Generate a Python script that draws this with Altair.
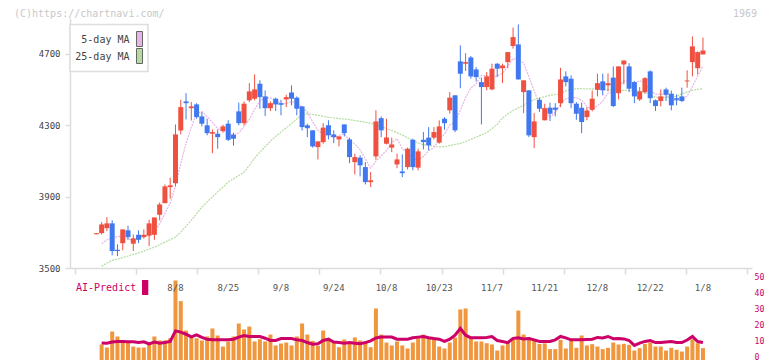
import altair as alt
import numpy as np
import pandas as pd

# ---------------- data ----------------
OPEN = [3689, 3695, 3723, 3750, 3602, 3639, 3711, 3636, 3686, 3673,
        3681, 3686, 3798, 3863, 3953, 3975, 4270, 4433, 4395, 4416,
        4349, 4299, 4252, 4252, 4267, 4308, 4246, 4377, 4311, 4439,
        4448, 4532, 4461, 4395, 4448, 4423, 4444, 4483, 4454, 4405,
        4299, 4271, 4177, 4205, 4299, 4248, 4220, 4304, 4220, 4093,
        4118, 4065, 3981, 4125, 4339, 4196, 4174, 4080, 4041, 4065,
        4218, 4062, 4218, 4230, 4230, 4202, 4336, 4383, 4467, 4657,
        4644, 4679, 4612, 4541, 4513, 4500, 4644, 4619, 4653, 4743,
        4752, 4485, 4495, 4233, 4442, 4327, 4398, 4398, 4423, 4573,
        4560, 4420, 4398, 4345, 4386, 4498, 4545, 4523, 4566, 4479,
        4640, 4629, 4541, 4444, 4485, 4601, 4439, 4435, 4500, 4476,
        4451, 4461, 4545, 4653, 4619, 4696]
HIGH = [3695, 3757, 3785, 3767, 3632, 3716, 3737, 3688, 3711, 3716,
        3770, 3783, 3867, 3968, 4006, 4304, 4442, 4479, 4429, 4423,
        4373, 4336, 4276, 4276, 4302, 4327, 4258, 4426, 4433, 4535,
        4584, 4551, 4494, 4433, 4454, 4442, 4470, 4523, 4461, 4405,
        4308, 4271, 4209, 4311, 4327, 4271, 4237, 4304, 4230, 4140,
        4131, 4093, 4037, 4383, 4349, 4336, 4230, 4140, 4136, 4174,
        4224, 4168, 4261, 4289, 4289, 4327, 4345, 4485, 4467, 4747,
        4703, 4687, 4625, 4566, 4597, 4644, 4647, 4644, 4709, 4846,
        4864, 4551, 4495, 4367, 4454, 4420, 4426, 4423, 4621, 4601,
        4579, 4429, 4426, 4401, 4494, 4588, 4588, 4590, 4629, 4629,
        4662, 4647, 4547, 4513, 4569, 4607, 4444, 4500, 4510, 4494,
        4472, 4510, 4607, 4797, 4713, 4790]
LOW = [3689, 3688, 3707, 3571, 3567, 3599, 3658, 3595, 3639, 3664,
       3623, 3658, 3767, 3863, 3888, 3957, 4248, 4332, 4326, 4336,
       4293, 4243, 4143, 4168, 4258, 4211, 4185, 4299, 4299, 4429,
       4439, 4392, 4351, 4379, 4379, 4355, 4401, 4411, 4355, 4270,
       4233, 4174, 4108, 4196, 4220, 4199, 4181, 4237, 4087, 4024,
       4013, 3968, 3953, 4106, 4233, 4192, 4149, 4059, 4009, 4052,
       4047, 4047, 4164, 4159, 4220, 4196, 4275, 4364, 4261, 4507,
       4603, 4560, 4545, 4304, 4495, 4495, 4569, 4536, 4619, 4728,
       4556, 4367, 4233, 4171, 4373, 4327, 4323, 4349, 4401, 4517,
       4395, 4330, 4255, 4327, 4377, 4461, 4467, 4489, 4401, 4444,
       4528, 4485, 4423, 4435, 4476, 4423, 4379, 4405, 4435, 4383,
       4411, 4429, 4510, 4573, 4584, 4696]
CLOSE = [3695, 3744, 3750, 3595, 3595, 3716, 3673, 3666, 3658, 3686,
         3750, 3783, 3856, 3957, 3963, 4248, 4401, 4423, 4405, 4345,
         4308, 4255, 4261, 4233, 4293, 4218, 4224, 4311, 4420, 4489,
         4500, 4457, 4395, 4423, 4416, 4414, 4457, 4448, 4392, 4289,
         4283, 4181, 4209, 4286, 4243, 4233, 4237, 4255, 4121, 4121,
         4075, 3981, 3991, 4321, 4271, 4231, 4192, 4108, 4031, 4168,
         4065, 4153, 4205, 4187, 4261, 4293, 4311, 4454, 4271, 4588,
         4653, 4573, 4569, 4513, 4573, 4616, 4616, 4634, 4709, 4793,
         4556, 4551, 4243, 4321, 4392, 4395, 4364, 4386, 4556, 4541,
         4423, 4364, 4317, 4382, 4448, 4535, 4495, 4535, 4407, 4629,
         4662, 4504, 4461, 4489, 4563, 4451, 4407, 4461, 4470, 4411,
         4442, 4435, 4550, 4741, 4709, 4718]
MA5 = [None, 3637, 3657, 3670, 3675, 3680, 3666, 3649, 3662, 3680,
       3687, 3709, 3747, 3806, 3862, 3961, 4085, 4198, 4288, 4364,
       4376, 4347, 4315, 4280, 4270, 4252, 4246, 4256, 4293, 4332,
       4389, 4435, 4452, 4453, 4438, 4421, 4421, 4432, 4425, 4400,
       4374, 4319, 4271, 4250, 4240, 4230, 4242, 4251, 4218, 4193,
       4162, 4111, 4058, 4098, 4128, 4159, 4201, 4225, 4167, 4146,
       4113, 4105, 4124, 4156, 4174, 4220, 4251, 4301, 4318, 4383,
       4455, 4508, 4531, 4579, 4576, 4569, 4577, 4590, 4630, 4674,
       4662, 4649, 4570, 4493, 4413, 4380, 4343, 4372, 4419, 4448,
       4454, 4454, 4440, 4405, 4387, 4409, 4435, 4479, 4484, 4520,
       4546, 4547, 4533, 4549, 4536, 4494, 4474, 4474, 4470, 4440,
       4438, 4444, 4462, 4516, 4575, 4631]
MA25 = [None, 3509, 3528, 3543, 3550, 3558, 3567, 3576, 3585, 3595,
        3606, 3617, 3631, 3645, 3659, 3673, 3701, 3734, 3767, 3804,
        3841, 3870, 3898, 3926, 3953, 3981, 3999, 4018, 4037, 4075,
        4115, 4149, 4180, 4210, 4237, 4261, 4285, 4308, 4335, 4358,
        4364, 4360, 4355, 4350, 4344, 4340, 4337, 4334, 4331, 4326,
        4321, 4316, 4311, 4302, 4292, 4281, 4270, 4258, 4244, 4229,
        4214, 4200, 4190, 4187, 4182, 4178, 4180, 4186, 4192, 4197,
        4208, 4220, 4233, 4245, 4258, 4280, 4305, 4340, 4362, 4382,
        4397, 4410, 4430, 4443, 4452, 4460, 4467, 4471, 4476, 4492,
        4500, 4504, 4504, 4503, 4503, 4503, 4500, 4498, 4496, 4495,
        4495, 4494, 4492, 4488, 4485, 4465, 4457, 4455, 4455, 4456,
        4462, 4475, 4485, 4495, 4500, 4504]
VOLUME = [None, 9.7, 7.8, 17.8, 14.7, 10.9, 10.9, 8.4, 7.8, 7.8,
          10.5, 14.7, 12.2, 12.2, 13.6, 49.7, 36.8, 18.4, 14.7, 13.6,
          12.2, 14.7, 19.7, 15.3, 8.4, 11.6, 14.7, 22.8, 19.1, 20.9,
          11.6, 13.0, 11.6, 15.9, 9.1, 10.3, 10.9, 9.1, 14.7, 22.8,
          15.9, 12.0, 8.9, 18.4, 12.2, 11.6, 8.0, 12.8, 10.9, 14.1,
          12.2, 10.9, 8.0, 32.2, 15.9, 10.9, 9.1, 11.6, 9.1, 7.2,
          10.9, 14.1, 15.9, 14.1, 12.8, 8.4, 7.2, 10.9, 14.1, 31.6,
          32.2, 14.1, 11.6, 11.6, 10.5, 9.7, 5.9, 9.1, 10.9, 12.8,
          30.9, 15.9, 14.1, 12.8, 10.0, 10.4, 6.8, 6.8, 12.6, 7.2,
          12.2, 7.6, 15.3, 9.1, 9.9, 8.4, 6.8, 7.6, 10.9, 9.7,
          10.1, 9.5, 5.9, 7.4, 10.1, 10.9, 8.4, 8.4, 5.9, 7.6,
          6.4, 5.3, 8.4, 13.0, 10.5, 7.4]
AI_PREDICT = [None, 10.7, 10.5, 11.2, 11.6, 11.6, 11.4, 11.4, 11.0, 11.4,
              10.1, 11.2, 10.5, 11.0, 11.6, 18.2, 17.4, 16.1, 14.5, 15.7,
              14.1, 13.0, 12.6, 12.6, 12.6, 12.6, 13.0, 14.3, 15.3, 14.7,
              14.7, 14.7, 13.6, 12.2, 12.2, 13.4, 13.4, 13.4, 12.6, 12.2,
              10.9, 9.9, 10.1, 12.2, 13.0, 11.2, 10.9, 10.5, 10.9, 10.5,
              10.1, 10.9, 12.0, 13.8, 14.3, 14.3, 14.3, 13.0, 13.0, 13.0,
              13.9, 14.3, 14.7, 13.9, 13.4, 13.0, 11.6, 13.0, 15.5, 19.7,
              15.5, 13.9, 13.9, 13.9, 14.1, 14.7, 12.2, 11.6, 10.8, 13.5,
              13.9, 13.2, 13.4, 12.6, 11.6, 11.6, 11.6, 12.6, 14.7, 13.8,
              12.6, 12.6, 12.6, 12.8, 13.0, 14.1, 13.8, 14.7, 13.3, 13.4,
              13.2, 12.2, 9.1, 10.5, 11.6, 12.2, 10.9, 10.9, 11.3, 11.6,
              10.9, 10.9, 12.5, 14.7, 11.5, 10.9]
DATE_LABELS = ["8/8", "8/25", "9/8", "9/24", "10/8", "10/23", "11/7",
               "11/21", "12/8", "12/22", "1/8"]
DATE_LABEL_POS = [15, 25, 35, 45, 55, 65, 75, 85, 95, 105, 115]
PRICE_TICKS = [3500, 3900, 4300, 4700]
AI_TICKS = [0, 10, 20, 30, 40, 50]
MA_LEGEND = ["5-day MA", "25-day MA"]

# ---------------- styles ----------------
MONO = "DejaVu Sans Mono"
UP, DOWN = "#F05040", "#4078F0"
PINK, GREEN = "#E6B4E6", "#B4DCA0"
ORANGE, MAGENTA = "#F0963C", "#CC0066"
AXIS_GREY = "#DCDCDC"

n = len(CLOSE)
df = pd.DataFrame({
    "i": np.arange(n), "open": OPEN, "high": HIGH, "low": LOW,
    "close": CLOSE, "ma5": MA5, "ma25": MA25, "vol": VOLUME, "ai": AI_PREDICT,
})
df["dir"] = np.where(df["close"] >= df["open"], "up", "down")

X_LO, X_HI = -4.05, 123.35
xscale = alt.Scale(domain=[X_LO, X_HI], nice=False, zero=False)
sep_ticks = [X_LO + k * (X_HI - X_LO) / 11 for k in range(12)]

x_main = alt.X("i:Q", scale=xscale, title=None,
               axis=alt.Axis(values=sep_ticks, labels=False, grid=False,
                             tickSize=6, tickColor=AXIS_GREY, tickWidth=1.5,
                             domainColor=AXIS_GREY, domainWidth=1.5))
yscale = alt.Scale(domain=[3500, 4900], nice=False, zero=False)
y_axis = alt.Axis(values=PRICE_TICKS, format="d", grid=False, tickSize=5,
                  tickColor=AXIS_GREY, tickWidth=1.5, domainColor=AXIS_GREY,
                  domainWidth=1.5, labelFont=MONO, labelFontSize=9,
                  labelColor="#444444", labelPadding=5, minExtent=57, maxExtent=57)
color = alt.Color("dir:N", scale=alt.Scale(domain=["up", "down"], range=[UP, DOWN]),
                  legend=None)

base = alt.Chart(df)
wicks = base.mark_rule(strokeWidth=1).encode(
    x=x_main, y=alt.Y("low:Q", scale=yscale, axis=y_axis, title=None),
    y2="high:Q", color=color)
bodies = base.mark_bar(size=5).encode(
    x=x_main, y=alt.Y("open:Q", scale=yscale, axis=y_axis, title=None),
    y2="close:Q", color=color)
ma5_line = base.mark_line(color=PINK, strokeWidth=1.2, strokeDash=[2, 1]).encode(
    x=x_main, y=alt.Y("ma5:Q", scale=yscale, axis=y_axis, title=None))
ma25_line = base.mark_line(color=GREEN, strokeWidth=1.2, strokeDash=[2, 1]).encode(
    x=x_main, y=alt.Y("ma25:Q", scale=yscale, axis=y_axis, title=None))

one = pd.DataFrame({"a": [0]})
legend_box = alt.Chart(one).mark_rect(fill="white", stroke="#DDDDDD", strokeWidth=1.5).encode(
    x=alt.value(0), x2=alt.value(78), y=alt.value(6.5), y2=alt.value(53.5))
legend_layers = [legend_box]
for k, (lab, col) in enumerate(zip(MA_LEGEND, [PINK, GREEN])):
    legend_layers.append(alt.Chart(one).mark_text(
        text=lab, font=MONO, fontSize=10, color="#444444", align="right", baseline="middle"
    ).encode(x=alt.value(59.5), y=alt.value(22 + 16.8 * k)))
    legend_layers.append(alt.Chart(one).mark_rect(fill=col, stroke="#666666", strokeWidth=1).encode(
        x=alt.value(66.5), x2=alt.value(72.5), y=alt.value(13.5 + 17 * k), y2=alt.value(28.5 + 17 * k)))

copyright_txt = alt.Chart(one).mark_text(
    text="(C)https://chartnavi.com/", font=MONO, fontSize=10, color="#C8C8C8",
    align="left", baseline="middle").encode(x=alt.value(-56), y=alt.value(-4.5))
code_txt = alt.Chart(one).mark_text(
    text="1969", font=MONO, fontSize=10, color="#C8C8C8",
    align="right", baseline="middle").encode(x=alt.value(687), y=alt.value(-4.5))

main = alt.layer(ma25_line, ma5_line, wicks, bodies, *legend_layers,
                 copyright_txt, code_txt).properties(width=682, height=250)

# ---------------- lower panel ----------------
x_low = alt.X("i:Q", scale=xscale, axis=None, title=None)
vscale = alt.Scale(domain=[0, 50], nice=False)
vol_bars = base.mark_bar(color=ORANGE, size=4).encode(
    x=x_low,
    y=alt.Y("vol:Q", scale=vscale, title=None,
            axis=alt.Axis(orient="left", labels=False, ticks=False, domain=False,
                          grid=False, minExtent=57, maxExtent=57)))
ai_line = base.mark_line(color=MAGENTA, strokeWidth=3).encode(
    x=x_low,
    y=alt.Y("ai:Q", scale=vscale, title=None,
            axis=alt.Axis(orient="right", values=AI_TICKS, ticks=False, domain=False,
                          grid=False, labelColor=MAGENTA, labelFont=MONO,
                          labelFontSize=8.2, labelPadding=2, labelOffset=-2.5)))
dates = pd.DataFrame({"i": DATE_LABEL_POS, "label": DATE_LABELS})
date_txt = alt.Chart(dates).mark_text(
    font=MONO, fontSize=9, color="#555555", baseline="middle").encode(
    x=x_low, y=alt.value(8), text="label:N")
ai_label = alt.Chart(one).mark_text(
    text="AI-Predict", font=MONO, fontSize=10, color=MAGENTA,
    align="left", baseline="middle").encode(x=alt.value(6), y=alt.value(8))
ai_swatch = alt.Chart(one).mark_rect(fill=MAGENTA).encode(
    x=alt.value(72), x2=alt.value(78.3), y=alt.value(0), y2=alt.value(15))

lower = alt.layer(vol_bars, ai_line, date_txt, ai_label, ai_swatch).resolve_scale(
    y="independent").properties(width=682, height=80)

chart = alt.vconcat(main, lower, spacing=-3).properties(
    padding={"left": 5, "top": 0, "right": 0, "bottom": 0}
).configure_view(stroke=None)

chart.save("out.html", embed_options={"renderer": "svg", "actions": False})
